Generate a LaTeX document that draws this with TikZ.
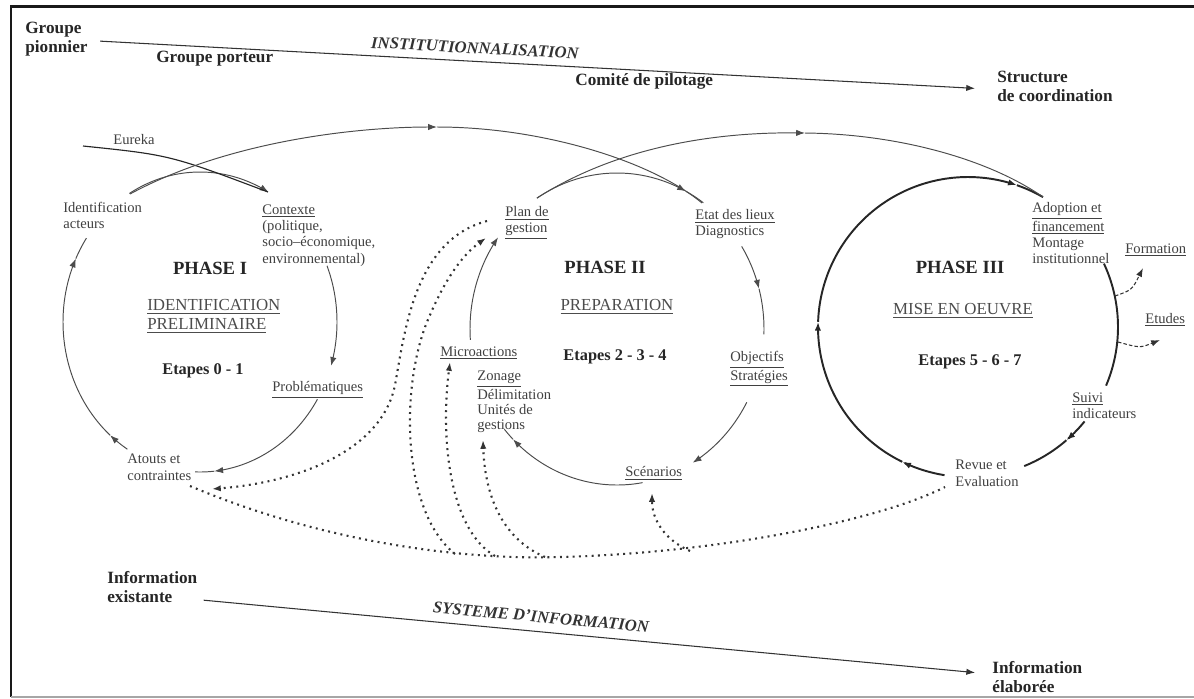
\documentclass[tikz,border=0pt]{standalone}
\usepackage{fontspec}
\setmainfont{Liberation Serif}
\usetikzlibrary{arrows.meta}

\newcommand{\txtsm}{\fontsize{8.3}{9.3}\selectfont}
\newcommand{\txtbig}{\fontsize{9.8}{10.8}\selectfont\bfseries}
\newcommand{\txtph}{\fontsize{10.6}{12}\selectfont\bfseries}
\newcommand{\txtsub}{\fontsize{9.6}{10.8}\selectfont}
\newcommand{\txtet}{\fontsize{9.3}{11}\selectfont\bfseries}
\newcommand{\txtit}{\fontsize{9.5}{11}\selectfont\bfseries\itshape}

\begin{document}
\begin{tikzpicture}[x=0.02cm, y=-0.02cm, >={Latex[length=5pt,width=3.6pt]},
    lbl/.style={inner sep=0pt, text=black!75, font=\txtsm, align=left},
    big/.style={inner sep=0pt, text=black!85, font=\txtbig, align=left},
    phasetxt/.style={inner sep=0pt, text=black!85, font=\txtph},
    subtitle/.style={inner sep=0pt, text=black!70, font=\txtsub, align=left},
    etape/.style={inner sep=0pt, text=black!85, font=\txtet},
    slanted/.style={inner sep=0pt, text=black!80, font=\txtit},
    cyc/.style={draw=black!70, line width=0.55pt},
    cycbold/.style={draw=black!85, line width=1.1pt},
    dotline/.style={draw=black!80, line width=1.2pt, dash pattern=on 1.1pt off 2.5pt},
    shortdash/.style={draw=black!80, line width=0.6pt, dash pattern=on 2pt off 1.2pt}]

    % Cadre
    \useasboundingbox (0,0) rectangle (1194,698);
    \draw[line width=1.7pt, black!90] (1194,6) -- (11,6) -- (11,697);
    \draw[line width=0.6pt, black!35] (11,697) -- (1194,697);

    % Institutionnalisation (haut)
    \node[big, anchor=north west] (gp) at (25,22) {Groupe\\pionnier};
    \node[big, anchor=base west] (gport) at (156,62) {Groupe porteur};
    \node[big, anchor=base west] (copil) at (575,85) {Comité de pilotage};
    \node[big, anchor=north west] (sc) at (997,71) {Structure\\de coordination};
    \node[slanted, rotate=-3] (inst) at (475,48) {INSTITUTIONNALISATION};
    \draw[->, black!80, line width=0.6pt] ([xshift=7pt, yshift=-1pt]gp.east) -- ([xshift=-12.5pt, yshift=-1pt]sc.west);

    % Systeme d'information (bas)
    \node[big, anchor=north west] (iex) at (107,571) {Information\\existante};
    \node[big, anchor=north west] (iel) at (992,661) {Information\\élaborée};
    \node[slanted, rotate=-5.3] (sysinfo) at (541,617) {SYSTEME D'INFORMATION};
    \draw[->, black!80, line width=0.6pt] ([xshift=3.4pt, yshift=-7.5pt]iex.east) -- ([xshift=-9.6pt, yshift=2.5pt]iel.west);

    % Phase I : centre (200,322), rx=137, ry=150
    \node[lbl, anchor=base west] (eureka) at (113,144) {Eureka};
    \node[lbl, anchor=north west] (idac) at (63,202) {Identification\\acteurs};
    \node[lbl, anchor=north west] (ctx) at (262,204) {\underline{Contexte}\\(politique,\\socio--économique,\\environnemental)};
    \node[lbl, anchor=west] (prob) at (272,390) {\underline{Problématiques}};
    \node[lbl, anchor=north west] (atouts) at (127,454) {Atouts et\\contraintes};
    \node[phasetxt] (ph1) at (210,268) {PHASE I};
    \node[subtitle, anchor=north west] (sub1) at (147,299) {\underline{IDENTIFICATION}\\\underline{PRELIMINAIRE}};
    \node[etape] (et1) at (203,371) {Etapes 0 - 1};

    \draw[cyc, ->] plot[domain=121:60, samples=30, smooth] ({200+137*cos(\x)}, {322-150*sin(\x)});
    \draw[cyc, ->] plot[domain=22:-17, samples=30, smooth] ({200+137*cos(\x)}, {322-150*sin(\x)});
    \draw[cyc, ->] plot[domain=-31:-84, samples=30, smooth] ({200+137*cos(\x)}, {322-150*sin(\x)});
    \draw[cyc] plot[domain=-84:-92, samples=8, smooth] ({200+137*cos(\x)}, {322-150*sin(\x)});
    \draw[cyc, ->] plot[domain=238:229, samples=8, smooth] ({200+137*cos(\x)}, {322-150*sin(\x)});
    \draw[cyc, ->] plot[domain=229:155, samples=40, smooth] ({200+137*cos(\x)}, {322-150*sin(\x)});
    \draw[cyc] plot[domain=155:146, samples=8, smooth] ({200+137*cos(\x)}, {322-150*sin(\x)});

    % Phase II : centre (617,329), rx=147, ry=156
    \node[lbl, anchor=north west] (plan) at (505,206) {\underline{Plan de}\\\underline{gestion}};
    \node[lbl, anchor=north west] (etat) at (695,209) {\underline{Etat des lieux}\\Diagnostics};
    \node[lbl, anchor=north west] (obj) at (730,351) {\underline{Objectifs}\\\underline{Stratégies}};
    \node[lbl, anchor=west] (scen) at (625,473) {\underline{Scénarios}};
    \node[lbl, anchor=north west, font=\fontsize{8.3}{8.6}\selectfont] (zon) at (477,371) {\underline{Zonage}\\Délimitation\\Unités de\\gestions};
    \node[lbl, anchor=west] (micro) at (440,353) {\underline{Microactions}};
    \node[phasetxt] (ph2) at (605,267) {PHASE II};
    \node[subtitle] (sub2) at (617,307) {\underline{PREPARATION}};
    \node[etape] (et2) at (615,357) {Etapes 2 - 3 - 4};

    \draw[cyc, ->] plot[domain=123:62, samples=30, smooth] ({617+147*cos(\x)}, {329-156*sin(\x)});
    \draw[cyc] plot[domain=62:54, samples=8, smooth] ({617+147*cos(\x)}, {329-156*sin(\x)});
    \draw[cyc, ->] plot[domain=32:15, samples=15, smooth] ({617+147*cos(\x)}, {329-156*sin(\x)});
    \draw[cyc] plot[domain=15:-2, samples=15, smooth] ({617+147*cos(\x)}, {329-156*sin(\x)});
    \draw[cyc, ->] plot[domain=-28:-59, samples=30, smooth] ({617+147*cos(\x)}, {329-156*sin(\x)});
    \draw[cyc, ->] plot[domain=-80:-135, samples=30, smooth] ({617+147*cos(\x)}, {329-156*sin(\x)});
    \draw[cyc] plot[domain=-135:-140, samples=6, smooth] ({617+147*cos(\x)}, {329-156*sin(\x)});
    \draw[cyc, ->] plot[domain=184:144, samples=30, smooth] ({617+147*cos(\x)}, {329-156*sin(\x)});

    % Phase III : centre (968,327), r=150
    \node[lbl, anchor=north west] (adopt) at (1032,202) {\underline{Adoption et}\\\underline{financement}\\Montage\\institutionnel};
    \node[lbl, anchor=west] (form) at (1125,250) {\underline{Formation}};
    \node[lbl, anchor=west] (etud) at (1145,320) {\underline{Etudes}};
    \node[lbl, anchor=north west] (suivi) at (1072,392) {\underline{Suivi}\\indicateurs};
    \node[lbl, anchor=north west] (revue) at (955,460) {Revue et\\Evaluation};
    \node[phasetxt] (ph3) at (960,267) {PHASE III};
    \node[subtitle] (sub3) at (963,311) {\underline{MISE EN OEUVRE}};
    \node[etape] (et3) at (970,362) {Etapes 5 - 6 - 7};

    \draw[cycbold, ->] plot[domain=261:244, samples=10, smooth] ({968+150*cos(\x)}, {327-150*sin(\x)});
    \draw[cycbold, ->] plot[domain=244:178, samples=30, smooth] ({968+150*cos(\x)}, {327-150*sin(\x)});
    \draw[cycbold, ->] plot[domain=178:71, samples=40, smooth] ({968+150*cos(\x)}, {327-150*sin(\x)});
    \draw[cycbold] plot[domain=71:60, samples=8, smooth] ({968+150*cos(\x)}, {327-150*sin(\x)});
    \draw[cycbold] plot[domain=25:-23, samples=30, smooth] ({968+150*cos(\x)}, {327-150*sin(\x)});
    \draw[cycbold, ->] plot[domain=-39:-49, samples=8, smooth] ({968+150*cos(\x)}, {327-150*sin(\x)});
    \draw[cycbold] plot[domain=-49:-68, samples=12, smooth] ({968+150*cos(\x)}, {327-150*sin(\x)});

    % Points d'attache
    \coordinate (i1top) at (130,194);
    \coordinate (i1mid) at (437,127);
    \coordinate (i2top) at (702,203);
    \coordinate (p2top) at (537,198);
    \coordinate (p2mid) at (805,133);
    \coordinate (p3top) at (1043,197);
    \coordinate (eur0) at (83,146);
    \coordinate (ctxin) at (268,192);
    \coordinate (f0) at (1115,296);
    \coordinate (f1) at (1143,268);
    \coordinate (e0) at (1118,342);
    \coordinate (e1) at (1160,340);
    \coordinate (planA) at (487,221);
    \coordinate (planB) at (486,238);
    \coordinate (atA) at (212,489);
    \coordinate (at0) at (190,486);
    \coordinate (rev0) at (945,487);
    \coordinate (hubB) at (455,554);
    \coordinate (hubC) at (495,556);
    \coordinate (hubD) at (545,557);
    \coordinate (hubE) at (690,551);
    \coordinate (microin) at (450,362);
    \coordinate (zonin) at (483,440);
    \coordinate (scenin) at (652,493);

    % Liaisons entre phases
    \draw[cyc, black!85, line width=0.65pt] (eur0) .. controls (170,155) .. (ctxin);
    \draw[cyc, ->] (i1top) .. controls (230,140) and (360,127) .. (i1mid);
    \draw[cyc] (i1mid) .. controls (540,127) and (650,160) .. (i2top);
    \draw[cyc, ->] (p2top) .. controls (620,145) and (720,132) .. (p2mid);
    \draw[cyc] (p2mid) .. controls (900,134) and (990,160) .. (p3top);

    % Formation, Etudes
    \draw[shortdash, ->] (f0) .. controls (1132,290) .. (f1);
    \draw[shortdash, ->] (e0) .. controls (1140,348) .. (e1);

    % Retours (pointilles)
    \draw[dotline, ->] (planA) .. controls (415,240) and (405,330) .. (395,385) .. controls (382,450) and (300,482) .. (atA);
    \draw[dotline] (at0) .. controls (330,545) and (470,560) .. (560,557) .. controls (720,553) and (880,520) .. (rev0);
    \draw[dotline, ->] (hubB) .. controls (400,510) and (400,380) .. (430,315) .. controls (445,280) and (462,255) .. (planB);
    \draw[dotline, ->] (hubC) .. controls (450,530) and (440,440) .. (microin);
    \draw[dotline, ->] (hubD) .. controls (505,540) and (485,500) .. (zonin);
    \draw[dotline, ->] (hubE) .. controls (665,540) and (652,520) .. (scenin);

\end{tikzpicture}
\end{document}
